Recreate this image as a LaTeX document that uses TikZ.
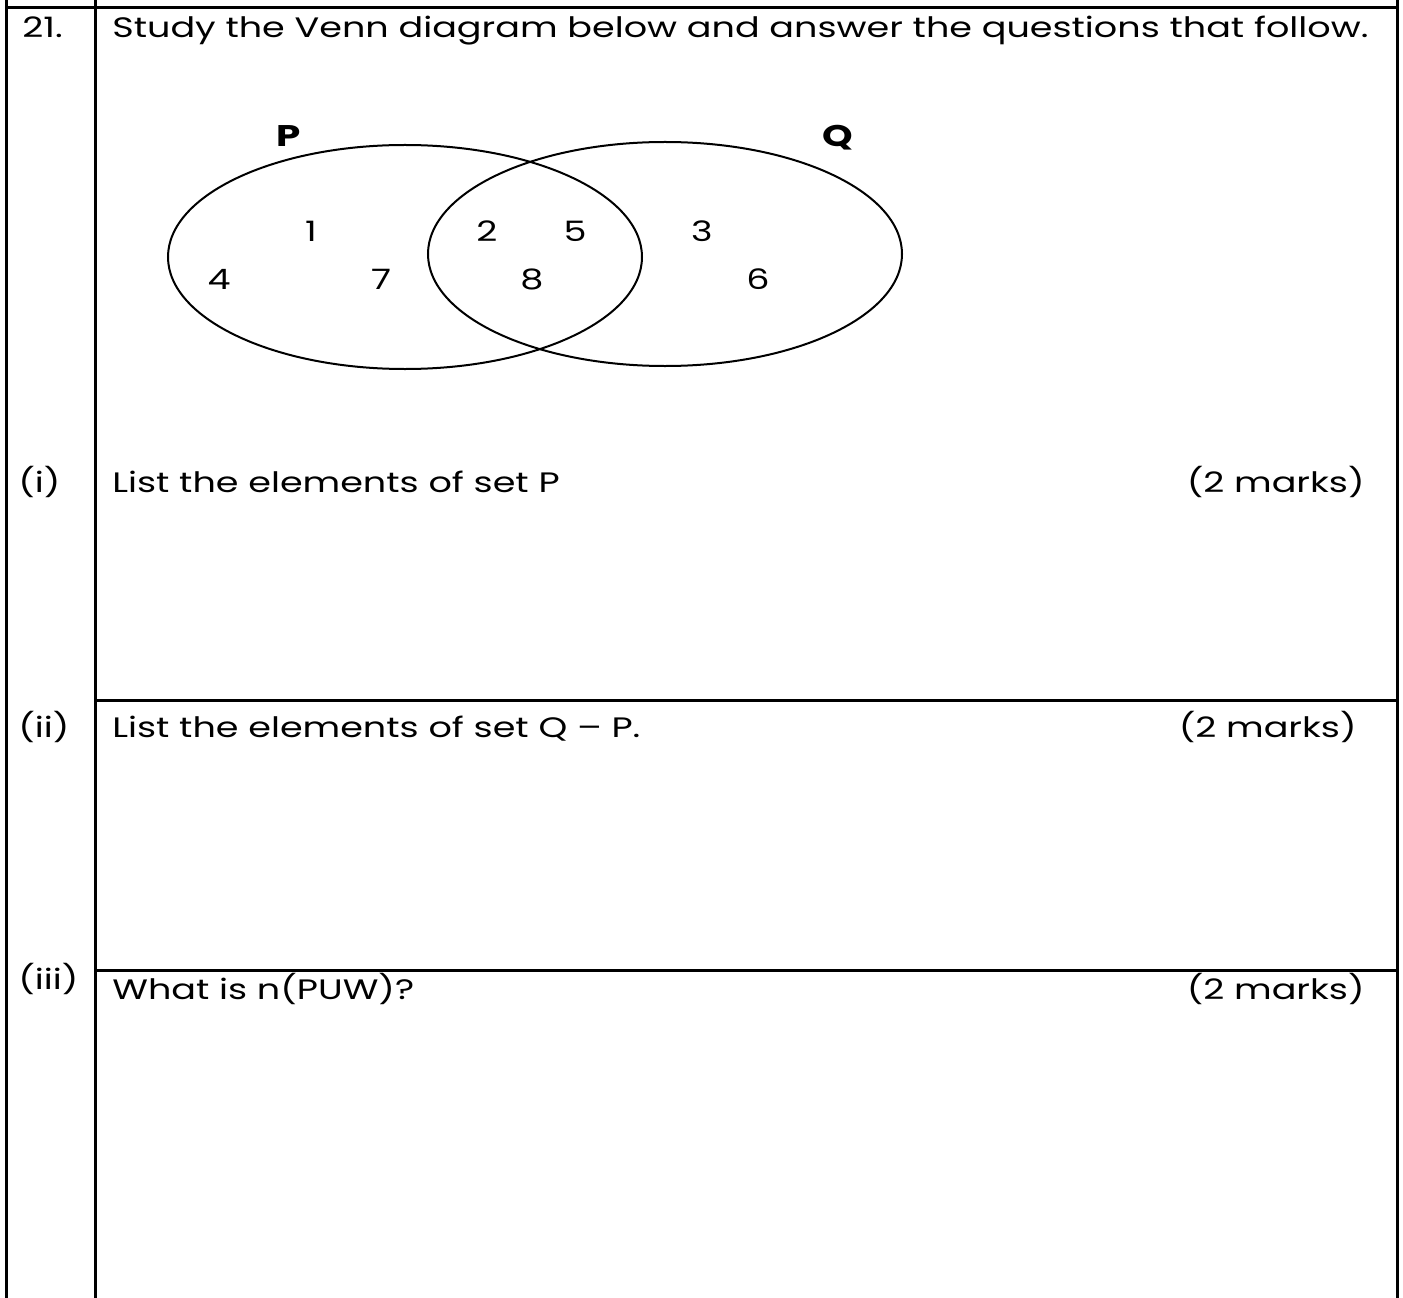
\documentclass[tikz,border=0pt]{standalone}
\usepackage{fontspec}
\setmainfont{Poppins}[FakeStretch=1.3]
\usetikzlibrary{shapes.geometric}

\begin{document}
\begin{tikzpicture}[x=0.2mm,y=-0.2mm,
    txt/.style={inner sep=0pt, font=\fontsize{16}{19}\selectfont},
    bigtxt/.style={inner sep=0pt, font=\fontsize{17}{20}\selectfont\bfseries},
    setring/.style={draw, ellipse, line width=0.4mm, inner sep=0pt,
      minimum width=94.8mm, minimum height=44.8mm},
    rule/.style={line width=0.6mm}]
    \useasboundingbox (0,0) rectangle (1403,1298);

    % table lines
    \draw[rule] (6,0) -- (6,1298);
    \draw[rule] (95,0) -- (95,1298);
    \draw[rule] (1397,0) -- (1397,1298);
    \draw[rule] (6,8) -- (1397,8);
    \draw[rule] (95,700) -- (1397,700);
    \draw[rule] (95,970) -- (1397,970);

    % question
    \node[txt, anchor=base west] (qnum) at (22,38) {21.};
    \node[txt, anchor=base west] (qtext) at (112,38)
      {Study the Venn diagram below and answer the questions that follow.};

    % venn diagram
    \node[setring] (setP) at (405,257) {};
    \node[setring] (setQ) at (665,254) {};
    \node[bigtxt, anchor=base] (labP) at (289,147) {P};
    \node[bigtxt, anchor=base] (labQ) at (838,147) {Q};
    \node[txt, anchor=base] (e1) at (311,242) {1};
    \node[txt, anchor=base] (e4) at (219,290) {4};
    \node[txt, anchor=base] (e7) at (381,290) {7};
    \node[txt, anchor=base] (e2) at (487,242) {2};
    \node[txt, anchor=base] (e5) at (575,242) {5};
    \node[txt, anchor=base] (e8) at (532,290) {8};
    \node[txt, anchor=base] (e3) at (702,242) {3};
    \node[txt, anchor=base] (e6) at (758,290) {6};

    % part (i)
    \node[txt, anchor=base west] (pi) at (18,492) {(i)};
    \node[txt, anchor=base west] (ti) at (112,492) {List the elements of set P};
    \node[txt, anchor=base east] (mi) at (1365,492) {(2 marks)};

    % part (ii)
    \node[txt, anchor=base west] (pii) at (18,737) {(ii)};
    \node[txt, anchor=base west] (tii) at (112,737) {List the elements of set Q – P.};
    \node[txt, anchor=base east] (mii) at (1357,737) {(2 marks)};

    % part (iii)
    \node[txt, anchor=base west] (piii) at (18,989) {(iii)};
    \node[txt, anchor=base west] (tiii) at (112,999) {What is n(PUW)?};
    \node[txt, anchor=base east] (miii) at (1365,999) {(2 marks)};
  \end{tikzpicture}
\end{document}
